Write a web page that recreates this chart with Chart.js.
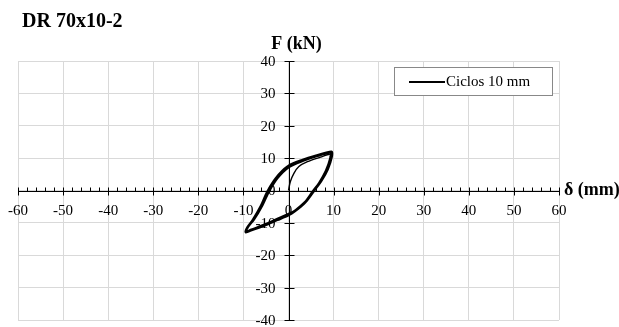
<!DOCTYPE html>
<html>
<head>
<meta charset="utf-8">
<script src="https://cdn.jsdelivr.net/npm/chart.js@4/dist/chart.umd.min.js"></script>
<style>
  html, body { margin: 0; padding: 0; background: #fff; }
  canvas { display: block; }
</style>
</head>
<body>
<canvas id="c" width="619" height="327"></canvas>
<script>
// Hysteresis record, specimen DR 70x10-2, 10 mm cycles
const chartTitle = 'DR 70x10-2';
const seriesLabel = 'Ciclos 10 mm';
const xTitle = 'δ (mm)';
const yTitle = 'F (kN)';

// displacement (mm) and force (kN), in recording order
const deltaMm = [
  0, 0.4, 1.2, 2.3, 4.2, 7.1, 9.2,
  9.3, 8.3, 6.8, 5.4, 3.5, 1.3, 0, -2.5, -5.5, -8.4, -9.3,
  -9.0, -7.7, -5.8, -4.4, -2.5, 0.1, 3.4, 6.4, 9.4,
  9.5, 8.5, 7.0, 5.5, 3.6, 1.4, 0.1, -2.4, -5.4, -8.5, -9.4,
  -9.1, -7.9, -6.0, -4.6, -2.7, -0.1, 3.3, 6.3, 9.5,
  9.6, 8.7, 7.2, 5.7, 3.8, 1.6, 0.3, -2.2, -5.2, -8.4, -9.5,
  -9.2, -8.0, -6.1, -4.7, -2.8, -0.2, 3.2, 6.2, 9.5
];
const forceKn = [
  0, 2.7, 5.3, 7.4, 8.9, 10.3, 11.2,
  10.0, 6.0, 2.3, -0.3, -3.9, -6.5, -7.6, -9.1, -10.9, -12.3, -12.6,
  -11.2, -9.0, -4.5, -0.4, 3.8, 7.3, 9.3, 10.7, 11.8,
  10.3, 6.3, 2.6, -0.2, -3.7, -6.3, -7.3, -8.8, -10.7, -12.4, -12.8,
  -11.4, -9.2, -4.6, -0.3, 3.9, 7.5, 9.5, 10.8, 12.0,
  10.5, 6.6, 2.8, 0, -3.5, -6.1, -7.1, -8.6, -10.5, -12.2, -12.9,
  -11.6, -9.3, -4.7, -0.4, 3.8, 7.4, 9.4, 10.7, 11.9
];

// the first points are the initial loading branch, drawn thinner
const initialBranchPoints = 7;

// axis ranges and steps
const xMin = -60, xMax = 60, xStep = 10, xMinorStep = 2;
const yMin = -40, yMax = 40, yStep = 10;

const points = deltaMm.map((d, i) => ({ x: d, y: forceKn[i] }));

const serif = '"Liberation Serif", "Times New Roman", serif';

// axes drawn through the origin, with crossing major ticks and minor ticks
const originAxes = {
  id: 'originAxes',
  beforeDatasetsDraw(chart) {
    const { ctx, chartArea: a, scales: { x, y } } = chart;
    const x0 = Math.round(x.getPixelForValue(0)) + 0.5;
    const y0 = Math.round(y.getPixelForValue(0)) + 0.5;
    ctx.save();
    ctx.strokeStyle = '#000';
    ctx.lineWidth = 1;
    ctx.beginPath();
    ctx.moveTo(a.left, y0); ctx.lineTo(a.right, y0);
    ctx.moveTo(x0, a.top); ctx.lineTo(x0, a.bottom);
    for (let v = xMin; v <= xMax + 1e-9; v += xMinorStep) {
      const px = Math.round(x.getPixelForValue(v)) + 0.5;
      if (v % xStep === 0) { ctx.moveTo(px, y0 - 4); ctx.lineTo(px, y0 + 4); }
      else { ctx.moveTo(px, y0 - 4); ctx.lineTo(px, y0); }
    }
    for (let v = yMin; v <= yMax + 1e-9; v += yStep) {
      const py = Math.round(y.getPixelForValue(v)) + 0.5;
      ctx.moveTo(x0 - 5, py); ctx.lineTo(x0 + 5, py);
    }
    ctx.stroke();

    // tick labels next to the origin axes, from the scales' own ticks
    ctx.fillStyle = '#000';
    ctx.font = '15px ' + serif;
    ctx.textAlign = 'center';
    ctx.textBaseline = 'top';
    x.ticks.forEach(t => ctx.fillText(String(t.value), x.getPixelForValue(t.value), y0 + 12));
    ctx.textAlign = 'right';
    ctx.textBaseline = 'middle';
    y.ticks.forEach(t => ctx.fillText(String(t.value), x0 - 14, y.getPixelForValue(t.value) + 1));
    ctx.restore();
  },
  afterDraw(chart) {
    const { ctx, chartArea: a, scales: { x, y } } = chart;
    const x0 = x.getPixelForValue(0);
    const y0 = y.getPixelForValue(0);
    ctx.save();
    ctx.fillStyle = '#000';
    // chart title
    ctx.font = 'bold 20px ' + serif;
    ctx.textAlign = 'left';
    ctx.textBaseline = 'alphabetic';
    ctx.fillText(chartTitle, 22, 27);
    // axis titles
    ctx.font = 'bold 18px ' + serif;
    ctx.textAlign = 'center';
    ctx.fillText(yTitle, x0 + 8, 49);
    ctx.textAlign = 'left';
    ctx.textBaseline = 'middle';
    ctx.fillText(xTitle, a.right + 5, y0);
    // legend
    const lx = 394, ly = 67, lw = 158, lh = 28;
    ctx.fillStyle = '#fff';
    ctx.fillRect(lx, ly, lw, lh);
    ctx.strokeStyle = '#888';
    ctx.lineWidth = 1;
    ctx.strokeRect(lx + 0.5, ly + 0.5, lw, lh);
    ctx.strokeStyle = '#000';
    ctx.lineWidth = 2;
    ctx.beginPath();
    ctx.moveTo(409, ly + 15); ctx.lineTo(445, ly + 15);
    ctx.stroke();
    ctx.fillStyle = '#000';
    ctx.font = '15px ' + serif;
    ctx.textBaseline = 'middle';
    ctx.fillText(chart.data.datasets[0].label, 446, ly + 15);
    ctx.restore();
  }
};

new Chart(document.getElementById('c'), {
  type: 'scatter',
  data: {
    datasets: [{
      label: seriesLabel,
      data: points,
      showLine: true,
      borderColor: '#000',
      borderWidth: 2.5,
      pointRadius: 0,
      tension: 0.3,
      fill: false,
      segment: {
        borderWidth: ctx => (ctx.p1DataIndex < initialBranchPoints ? 1.4 : undefined)
      }
    }]
  },
  options: {
    responsive: false,
    animation: false,
    layout: { padding: { left: 18, right: 60, top: 61, bottom: 7 } },
    plugins: { legend: { display: false }, tooltip: { enabled: false } },
    scales: {
      x: {
        type: 'linear',
        position: 'bottom',
        min: xMin, max: xMax,
        grid: { color: '#d9d9d9', drawTicks: false, lineWidth: 1 },
        border: { display: false },
        ticks: { stepSize: xStep, display: false, autoSkip: false }
      },
      y: {
        type: 'linear',
        position: 'left',
        min: yMin, max: yMax,
        grid: { color: '#d9d9d9', drawTicks: false, lineWidth: 1 },
        border: { display: false },
        ticks: { stepSize: yStep, display: false, autoSkip: false }
      }
    }
  },
  plugins: [originAxes]
});
</script>
</body>
</html>
